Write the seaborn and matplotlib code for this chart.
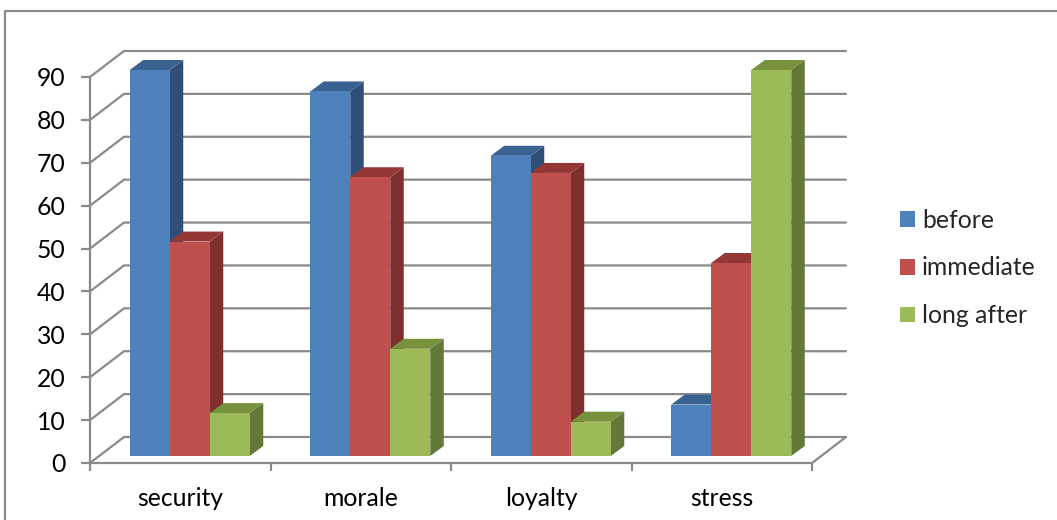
import seaborn as sns
import matplotlib.pyplot as plt
import pandas as pd
from matplotlib.lines import Line2D
from matplotlib.patches import Polygon

categories = ["security", "morale", "loyalty", "stress"]
series_names = ["before", "immediate", "long after"]
before = [90, 85, 70, 12]
immediate = [50, 65, 66, 45]
long_after = [10, 25, 8, 90]
y_ticks = [0, 10, 20, 30, 40, 50, 60, 70, 80, 90]

front_colors = ["#4F81BD", "#C0504D", "#9BBB59"]
top_colors = ["#3A6290", "#943836", "#76923C"]
side_colors = ["#2F4F78", "#7F2F2E", "#64783A"]
line_color = "#8A8A8A"

df = pd.DataFrame({
    "category": categories * 3,
    "series": [s for s in series_names for _ in categories],
    "value": before + immediate + long_after,
})

sns.set_theme(style="white")
plt.rcParams["font.family"] = ["Lato", "DejaVu Sans"]

W, H = 1057, 520
fig = plt.figure(figsize=(W / 100, H / 100), dpi=100)
ax = fig.add_axes([90 / W, 1 - 463 / H, 722 / W, 386 / H])

sns.barplot(data=df, x="category", y="value", hue="series", order=categories,
            hue_order=series_names, palette=front_colors, saturation=1,
            width=0.665, linewidth=0, ax=ax)

ax.set_xlim(-0.5, 3.5)
ax.set_ylim(0, 90)

# pasar de pixeles a unidades de datos
px_x = 4 / 722
px_y = 90 / 386

wall_dx, wall_dy = 34 * px_x, 26 * px_y
floor_dx, floor_dy = 9.5 * px_x, 7 * px_y
depth_dx, depth_dy = 13.5 * px_x, 10 * px_y

# pared del fondo y lateral
for v in y_ticks:
    ax.plot([-0.5, -0.5 + wall_dx, 3.5 + wall_dx], [v, v + wall_dy, v + wall_dy],
            color=line_color, lw=1.6, clip_on=False, zorder=1)
ax.plot([3.5, 3.5 + wall_dx], [0, wall_dy], color=line_color, lw=1.6, clip_on=False, zorder=1)

# barras con cara lateral y superior
for i, bars in enumerate(ax.containers):
    for bar in bars:
        bar.set_x(bar.get_x() + floor_dx)
        bar.set_y(floor_dy)
        bar.set_clip_on(False)
        bar.set_zorder(4 + i * 2)
        x0, x1 = bar.get_x(), bar.get_x() + bar.get_width()
        y0, y1 = floor_dy, floor_dy + bar.get_height()
        side = Polygon([(x1, y0), (x1 + depth_dx, y0 + depth_dy),
                        (x1 + depth_dx, y1 + depth_dy), (x1, y1)],
                       facecolor=side_colors[i], edgecolor="none",
                       clip_on=False, zorder=3 + i * 2)
        top = Polygon([(x0, y1), (x0 + depth_dx, y1 + depth_dy),
                       (x1 + depth_dx, y1 + depth_dy), (x1, y1)],
                      facecolor=top_colors[i], edgecolor="none",
                      clip_on=False, zorder=3 + i * 2)
        ax.add_patch(side)
        ax.add_patch(top)

sns.despine(ax=ax)
for name in ["left", "bottom"]:
    ax.spines[name].set_color(line_color)
    ax.spines[name].set_linewidth(1.6)
    ax.spines[name].set_zorder(2)

ax.set_xlabel("")
ax.set_ylabel("")
ax.set_yticks(y_ticks)
ax.set_xticks([-0.5, 0.5, 1.5, 2.5, 3.5])
ax.set_xticklabels([])
ax.set_xticks(range(len(categories)), labels=categories, minor=True)
ax.tick_params(axis="y", which="major", left=True, length=6.5, width=1.6, color=line_color,
               pad=11, labelsize=17.8, labelcolor="black")
ax.tick_params(axis="x", which="major", bottom=True, length=6, width=1.6, color=line_color)
ax.tick_params(axis="x", which="minor", bottom=False, length=0, pad=17, labelsize=17.8,
               labelcolor="black")

handles, labels = ax.get_legend_handles_labels()
ax.legend(handles, labels, loc="center left", bbox_to_anchor=(900 / W, 1 - 268 / H),
          bbox_transform=fig.transFigure, frameon=False, fontsize=17.8, handlelength=0.6,
          handleheight=0.6, handletextpad=0.28, labelspacing=1.0, borderpad=0, borderaxespad=0)

# borde del grafico: solo arriba y a la izquierda
fig.add_artist(Line2D([1, 5 / W, 5 / W], [1 - 10.5 / H, 1 - 10.5 / H, 0],
                      color=line_color, lw=1.6, transform=fig.transFigure))

fig.savefig("out.png", dpi=100)
